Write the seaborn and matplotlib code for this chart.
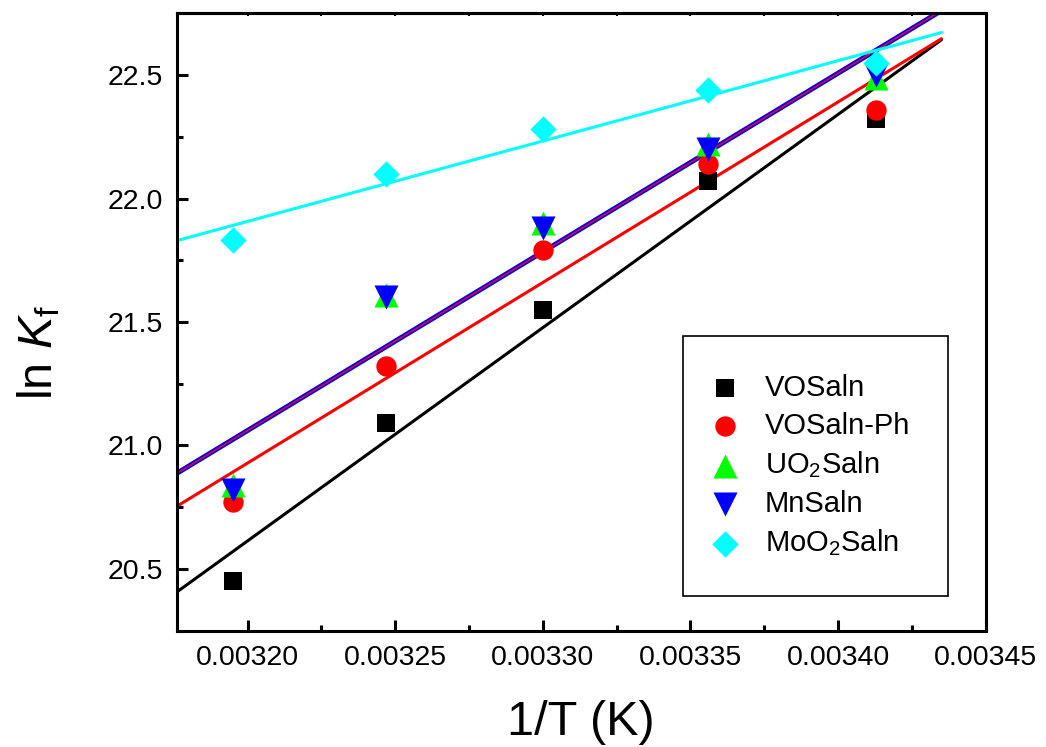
import numpy as np
import pandas as pd
import matplotlib
matplotlib.use("Agg")
import matplotlib.pyplot as plt
import seaborn as sns
from matplotlib.ticker import MultipleLocator, FormatStrFormatter

# ---- data ----
inv_T = [0.003195, 0.003247, 0.003300, 0.003356, 0.003413]
series_names = ["VOSaln", "VOSaln-Ph", "UO$_2$Saln", "MnSaln", "MoO$_2$Saln"]
ln_kf_VOSaln = [20.45, 21.09, 21.55, 22.07, 22.32]
ln_kf_VOSalnPh = [20.77, 21.32, 21.79, 22.14, 22.36]
ln_kf_UO2Saln = [20.84, 21.61, 21.90, 22.22, 22.49]
ln_kf_MnSaln = [20.82, 21.60, 21.88, 22.20, 22.50]
ln_kf_MoO2Saln = [21.83, 22.10, 22.28, 22.44, 22.55]
x_ticks = [0.00320, 0.00325, 0.00330, 0.00335, 0.00340, 0.00345]
y_ticks = [20.5, 21.0, 21.5, 22.0, 22.5]

values = [ln_kf_VOSaln, ln_kf_VOSalnPh, ln_kf_UO2Saln, ln_kf_MnSaln, ln_kf_MoO2Saln]

# ---- styles ----
colors = ["#000000", "#ff0000", "#00ff00", "#0000ff", "#00ffff"]
markers = ["s", "o", "^", "v", "D"]
sizes = [175, 215, 300, 300, 180]
fit_range = (0.003170, 0.003435)

sns.set_theme(style="white")
plt.rcParams["font.family"] = ["Liberation Sans", "DejaVu Sans"]
plt.rcParams["mathtext.fontset"] = "custom"
plt.rcParams["mathtext.rm"] = "Liberation Sans"
plt.rcParams["mathtext.it"] = "Liberation Sans:italic"
plt.rcParams["mathtext.bf"] = "Liberation Sans:bold"
for key in ["text.color", "axes.labelcolor", "xtick.color", "ytick.color",
            "axes.edgecolor"]:
    plt.rcParams[key] = "black"

fig = plt.figure(figsize=(10.46, 7.47), dpi=100)
ax = fig.add_axes([0.1689, 0.1557, 0.7735, 0.8265])

df = pd.DataFrame({
    "x": np.tile(inv_T, len(series_names)),
    "y": np.concatenate(values),
    "series": np.repeat(series_names, len(inv_T)),
})

# fit lines (least squares through each series)
xf = np.linspace(fit_range[0], fit_range[1], 50)
fits = {}
for name in series_names:
    sub = df[df.series == name]
    fits[name] = np.polyfit(sub.x, sub.y, 1)

def draw_fit(name, **kw):
    k, b = fits[name]
    sns.lineplot(x=xf, y=k * xf + b, ax=ax, legend=False, zorder=2, **kw)

draw_fit("VOSaln", color=colors[0], lw=2.2)
draw_fit("VOSaln-Ph", color=colors[1], lw=2.2)
draw_fit("MnSaln", color=colors[3], lw=3.6)
draw_fit("MnSaln", color=colors[1], lw=1.0)
draw_fit("MoO$_2$Saln", color=colors[4], lw=2.2)

for i, name in enumerate(series_names):
    sub = df[df.series == name]
    sns.scatterplot(data=sub, x="x", y="y", ax=ax, color=colors[i],
                    marker=markers[i], s=sizes[i], linewidth=0, zorder=3,
                    label=name)

ax.set_xlim(0.003176, 0.00345)
ax.set_ylim(20.25, 22.75)
ax.set_xticks(x_ticks)
ax.set_yticks(y_ticks)
ax.xaxis.set_major_formatter(FormatStrFormatter("%.5f"))
ax.yaxis.set_major_formatter(FormatStrFormatter("%.1f"))
ax.xaxis.set_minor_locator(MultipleLocator(0.000025))
ax.yaxis.set_minor_locator(MultipleLocator(0.25))

for s in ax.spines.values():
    s.set_linewidth(2.2)
    s.set_color("black")
ax.tick_params(which="both", bottom=True, left=True, top=False, right=False)
ax.tick_params(which="major", direction="in", length=8, width=2.2,
               labelsize=20.5, pad=10, colors="black")
ax.tick_params(which="minor", direction="in", length=4.5, width=2.2,
               colors="black")

# short mirror ticks on top
secx = ax.secondary_xaxis("top")
secx.set_xticks(x_ticks)
secx.xaxis.set_minor_locator(MultipleLocator(0.000025))
secx.tick_params(which="both", direction="in", length=2.5, width=1.5,
                 labeltop=False, top=True, colors="black")
secx.spines["top"].set_linewidth(2.2)

ax.set_xlabel("1/T (K)", fontsize=35, labelpad=21)
ax.set_ylabel(r"ln $\mathit{K}_\mathrm{f}$", fontsize=35)
ax.yaxis.set_label_coords(-0.141, 0.451)

leg = ax.legend(loc="upper left", bbox_to_anchor=(0.626, 0.477), fontsize=21,
                frameon=True, fancybox=False, edgecolor="black", framealpha=1,
                borderpad=1.3, labelspacing=0.33, handletextpad=1.2,
                handlelength=0.3, borderaxespad=0, markerscale=1.0)
leg.get_frame().set_linewidth(1.2)

fig.savefig("out.png", dpi=100)
